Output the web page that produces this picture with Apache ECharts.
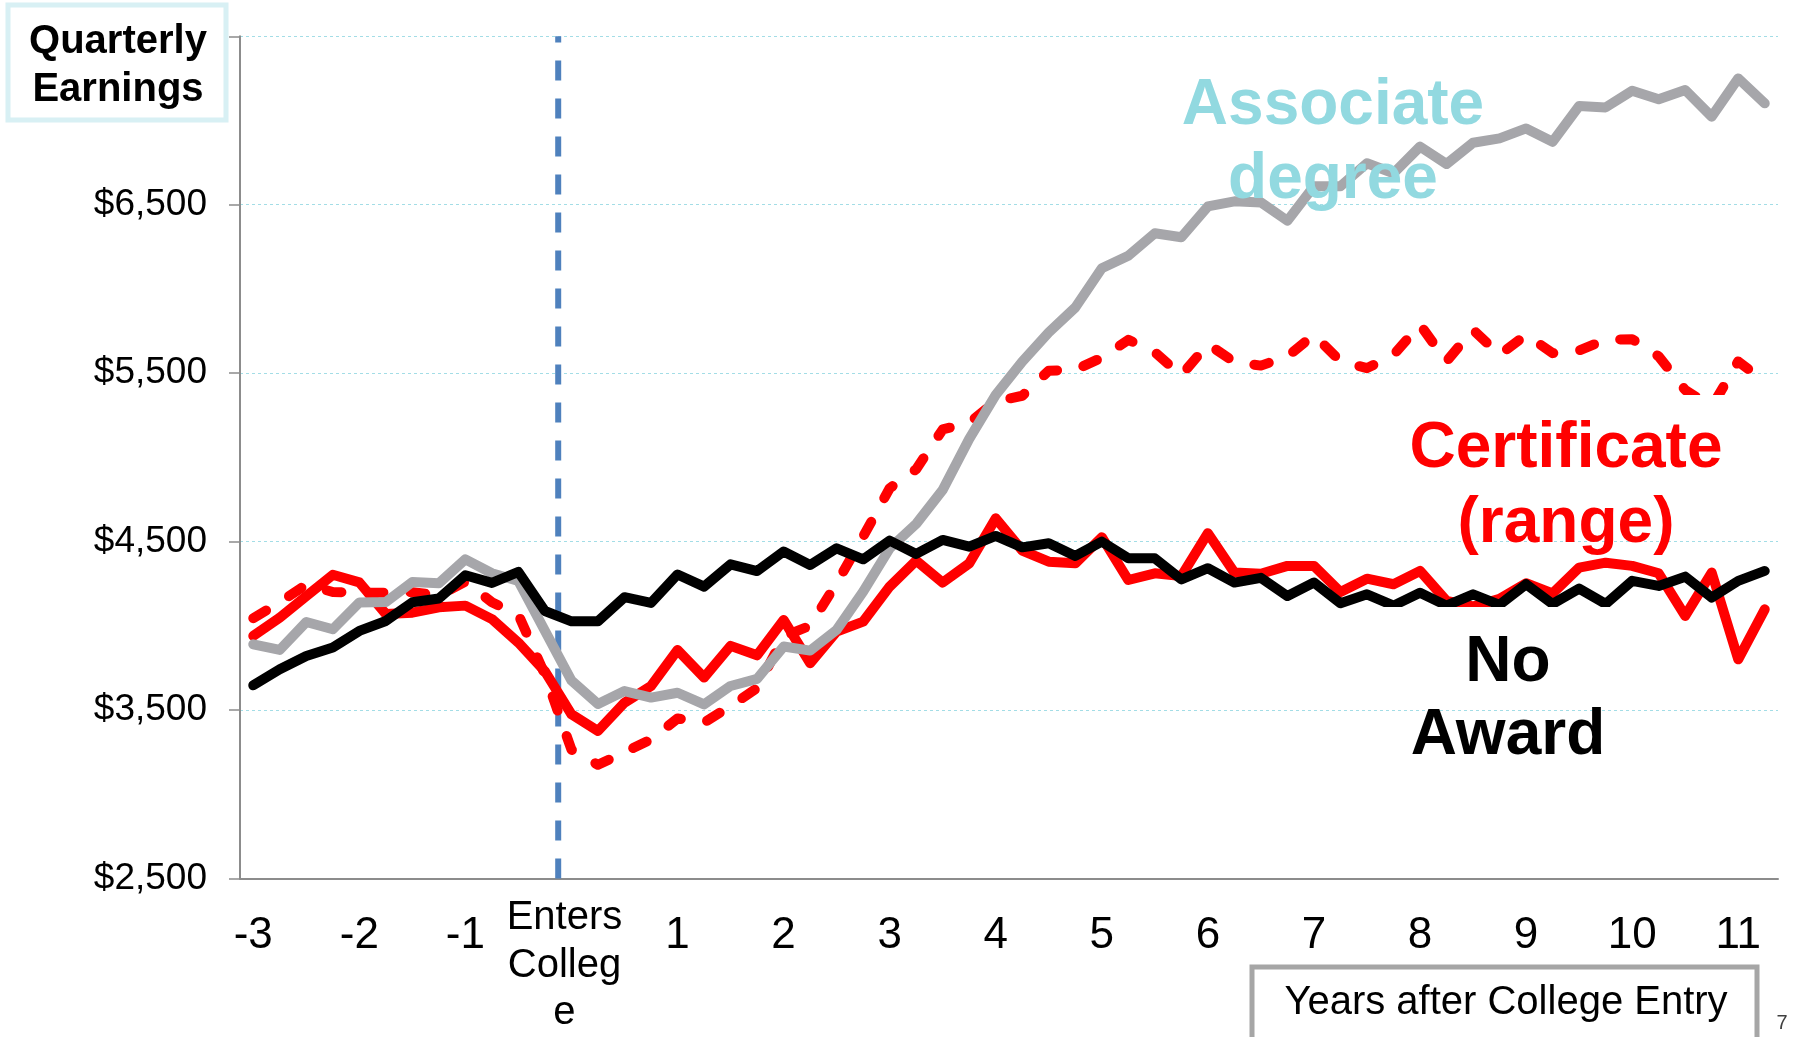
<!DOCTYPE html>
<html>
<head>
<meta charset="utf-8">
<title>Quarterly Earnings</title>
<script src="https://cdn.jsdelivr.net/npm/echarts@6/dist/echarts.min.js"></script>
<style>
  html, body { margin: 0; padding: 0; background: #fff; }
  #chart { width: 1796px; height: 1037px; }
</style>
</head>
<body>
<div id="chart"></div>
<script>
// one label per year, the axis has one category per quarter
const yearLabels = ['-3', '-2', '-1', 'Enters College', '1', '2', '3', '4', '5', '6', '7', '8', '9', '10', '11'];
const quartersPerYear = 4;
const entryLabel = 'Enters College';

// quarterly earnings
const noAward = [3647, 3742, 3821, 3871, 3970, 4029, 4140, 4162, 4300, 4255,
  4320, 4088, 4027, 4027, 4170, 4136, 4305, 4233, 4365, 4325,
  4441, 4361, 4460, 4395, 4506, 4427, 4510, 4470, 4534, 4466,
  4490, 4415, 4500, 4401, 4401, 4276, 4342, 4257, 4285, 4177,
  4257, 4134, 4187, 4120, 4197, 4120, 4187, 4125, 4247, 4130,
  4221, 4130, 4267, 4237, 4292, 4168, 4267, 4326];
const associate = [3890, 3857, 4023, 3980, 4138, 4142, 4260, 4253, 4395, 4312,
  4266, 3970, 3675, 3536, 3613, 3574, 3603, 3534, 3643, 3685,
  3877, 3853, 3976, 4203, 4460, 4605, 4807, 5110, 5371, 5569,
  5742, 5890, 6123, 6197, 6331, 6307, 6490, 6520, 6514, 6405,
  6610, 6610, 6746, 6687, 6845, 6742, 6868, 6894, 6953, 6874,
  7086, 7078, 7177, 7126, 7181, 7023, 7250, 7102];
const certLow = [3940, 4049, 4177, 4303, 4258, 4070, 4078, 4110, 4120, 4040,
  3900, 3730, 3475, 3376, 3544, 3643, 3857, 3693, 3881, 3825,
  4035, 3778, 3966, 4025, 4233, 4387, 4257, 4371, 4638, 4447,
  4381, 4371, 4526, 4272, 4312, 4295, 4550, 4316, 4309, 4356,
  4356, 4201, 4280, 4247, 4326, 4148, 4115, 4160, 4253, 4193,
  4346, 4375, 4356, 4312, 4059, 4316, 3801, 4098];
const certHigh = [4045, 4140, 4245, 4201, 4197, 4197, 4200, 4180, 4262, 4140,
  4066, 3710, 3265, 3175, 3250, 3325, 3450, 3425, 3524, 3630,
  3936, 4001, 4253, 4530, 4817, 4930, 5166, 5206, 5332, 5366,
  5515, 5520, 5592, 5698, 5624, 5487, 5673, 5566, 5545, 5600,
  5728, 5570, 5530, 5609, 5788, 5570, 5758, 5609, 5728, 5619,
  5635, 5698, 5702, 5600, 5400, 5300, 5570, 5451];

const yMin = 2500;
const yMax = 7500;
const yStep = 1000;

// category list: label on the first quarter of every year
const categories = noAward.map((v, i) => i % quartersPerYear === 0 ? yearLabels[i / quartersPerYear] : '');
const entryIndex = categories.indexOf(entryLabel);

const FONT = '"Liberation Sans", Arial, sans-serif';
const chart = echarts.init(document.getElementById('chart'), null, { renderer: 'canvas' });

const lineSeries = (name, data, color, dashed, z) => ({
  name: name,
  type: 'line',
  data: data,
  symbol: 'none',
  z: z,
  lineStyle: {
    color: color,
    width: 10,
    type: dashed ? [15, 27] : 'solid',
    cap: 'round',
    join: 'round'
  }
});

const option = {
  backgroundColor: '#ffffff',
  animation: false,
  grid: { left: 240, right: 18, top: 36.3, bottom: 158.5 },
  xAxis: [
    {
      type: 'category',
      data: categories,
      boundaryGap: true,
      axisLine: { lineStyle: { color: '#8c8c8c', width: 2 } },
      axisTick: { interval: quartersPerYear - 1, length: 13, lineStyle: { color: '#8c8c8c', width: 1.5 } },
      axisLabel: {
        interval: quartersPerYear - 1,
        margin: 16,
        color: '#000',
        fontFamily: FONT,
        formatter: v => v === entryLabel ? '{e|Enters\nColleg\ne}' : '{n|' + v + '}',
        rich: {
          n: { fontSize: 44, lineHeight: 83, fontFamily: FONT, color: '#000' },
          e: { fontSize: 40, lineHeight: 47.5, fontFamily: FONT, color: '#000', align: 'center', padding: [0, 14, 0, 0] }
        }
      },
      splitLine: { show: false }
    },
    {
      // hidden helper axis so the entry marker sits on the year boundary
      type: 'value',
      min: 0,
      max: categories.length,
      show: false
    }
  ],
  yAxis: {
    type: 'value',
    min: yMin,
    max: yMax,
    interval: yStep,
    axisLine: { show: true, lineStyle: { color: '#8c8c8c', width: 2 } },
    axisTick: { show: true, length: 11, lineStyle: { color: '#8c8c8c', width: 1.5 } },
    axisLabel: {
      margin: 33,
      fontSize: 37,
      fontFamily: FONT,
      color: '#000',
      formatter: v => v === yMax ? '' : '$' + v.toLocaleString('en-US')
    },
    splitLine: { lineStyle: { color: '#a3dde6', width: 1, type: [3, 3] } }
  },
  series: [
    {
      name: 'College entry',
      type: 'line',
      xAxisIndex: 1,
      data: [[entryIndex, yMin], [entryIndex, yMax]],
      symbol: 'none',
      z: 1,
      lineStyle: { color: '#4f81bd', width: 6, type: [20, 18] }
    },
    lineSeries('Certificate (high)', certHigh, '#ff0000', true, 2),
    lineSeries('Certificate (low)', certLow, '#ff0000', false, 3),
    lineSeries('Associate degree', associate, '#a6a6aa', false, 4),
    lineSeries('No Award', noAward, '#000000', false, 5)
  ],
  graphic: [
    // y axis title box
    {
      type: 'rect', z: 100,
      shape: { x: 8, y: 5, width: 218, height: 115 },
      style: { fill: '#fff', stroke: '#d8f0f4', lineWidth: 5 }
    },
    {
      type: 'text', z: 101, x: 118, y: 66,
      style: {
        text: 'Quarterly\nEarnings', fontSize: 40, fontWeight: 'bold', fontFamily: FONT,
        fill: '#000', align: 'center', verticalAlign: 'middle', lineHeight: 48
      }
    },
    // series annotations (the white boxes hide the lines but stay clear of the grid lines)
    {
      type: 'text', z: 101, x: 1333, y: 143,
      style: {
        text: 'Associate\ndegree', fontSize: 64, fontWeight: 'bold', fontFamily: FONT,
        fill: '#92d9e0', align: 'center', verticalAlign: 'middle', lineHeight: 74
      }
    },
    {
      type: 'rect', z: 100,
      shape: { x: 1405, y: 395, width: 330, height: 135 },
      style: { fill: '#fff' }
    },
    {
      type: 'text', z: 101, x: 1566, y: 487,
      style: {
        text: 'Certificate\n(range)', fontSize: 64, fontWeight: 'bold', fontFamily: FONT,
        fill: '#ff0000', align: 'center', verticalAlign: 'middle', lineHeight: 75
      }
    },
    {
      type: 'rect', z: 100,
      shape: { x: 1375, y: 607, width: 285, height: 95 },
      style: { fill: '#fff' }
    },
    {
      type: 'text', z: 101, x: 1508, y: 700,
      style: {
        text: 'No\nAward', fontSize: 64, fontWeight: 'bold', fontFamily: FONT,
        fill: '#000', align: 'center', verticalAlign: 'middle', lineHeight: 73
      }
    },
    // x axis title box
    {
      type: 'rect', z: 100,
      shape: { x: 1252, y: 967, width: 505, height: 80 },
      style: { fill: '#fff', stroke: '#a6a6a6', lineWidth: 5 }
    },
    {
      type: 'text', z: 101, x: 1506, y: 1003,
      style: {
        text: 'Years after College Entry', fontSize: 40, fontFamily: FONT,
        fill: '#000', align: 'center', verticalAlign: 'middle'
      }
    },
    {
      type: 'text', z: 101, x: 1782, y: 1023,
      style: {
        text: '7', fontSize: 20, fontFamily: FONT,
        fill: '#404040', align: 'center', verticalAlign: 'middle'
      }
    }
  ]
};

chart.setOption(option);
</script>
</body>
</html>
